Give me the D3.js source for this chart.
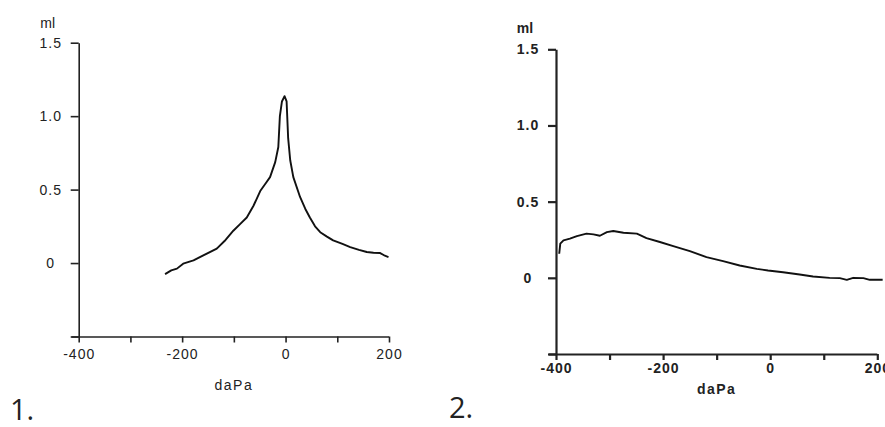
<!DOCTYPE html>
<html>
<head>
<meta charset="utf-8">
<script src="https://cdn.jsdelivr.net/npm/d3@7"></script>
<style>
  html, body { margin: 0; padding: 0; background: #fff; }
  svg { display: block; }
  .tick text { font-family: "Liberation Sans", Arial, sans-serif; font-size: 14px; fill: #222; letter-spacing: 1px; }
  .lbl { font-family: "Liberation Sans", Arial, sans-serif; font-size: 14px; fill: #222; }
  .num { font-family: "Open Sans", "Noto Sans", sans-serif; font-size: 29px; fill: #222; }
</style>
</head>
<body>
<div id="root"></div>
<script>
// chart 1 : pic autour de 0 daPa
const leftX = [-233, -221, -210, -198, -178, -160, -133, -118, -101, -88, -75, -62, -49, -38, -30, -20, -14, -11, -7, -2, 2, 5, 9, 15, 28, 38, 47, 57, 67, 80, 92, 110, 125, 142, 157, 170, 183, 192, 199];
const leftY = [-0.075, -0.05, -0.038, -0.004, 0.018, 0.05, 0.098, 0.15, 0.22, 0.265, 0.31, 0.39, 0.49, 0.545, 0.585, 0.687, 0.79, 1.0, 1.1, 1.136, 1.1, 0.85, 0.7, 0.585, 0.45, 0.37, 0.31, 0.25, 0.21, 0.18, 0.154, 0.13, 0.109, 0.09, 0.075, 0.07, 0.068, 0.05, 0.041];

// chart 2 : courbe plate
const rightX = [-394, -392, -386, -374, -361, -343, -330, -318, -305, -293, -274, -249, -231, -206, -181, -150, -119, -88, -57, -25, -4, 24, 55, 80, 111, 130, 143, 155, 174, 186, 210];
const rightY = [0.158, 0.224, 0.246, 0.257, 0.274, 0.29, 0.285, 0.276, 0.30, 0.307, 0.296, 0.29, 0.261, 0.235, 0.208, 0.175, 0.136, 0.11, 0.081, 0.059, 0.048, 0.037, 0.022, 0.009, 0.0, -0.002, -0.013, 0.0, -0.002, -0.013, -0.013];

const xTicks = [-400, -300, -200, -100, 0, 100, 200];
const xLabels = [-400, -200, 0, 200];
const yTicks = [-0.5, 0, 0.5, 1.0, 1.5];
const yLabels = ['0', '0.5', '1.0', '1.5'];

const W = 885, H = 427;

const svg = d3.select('#root').append('svg')
  .attr('width', W)
  .attr('height', H);

const PANELS = [
  { xs: leftX, ys: leftY, x0: 78.7, x1: 389, y0: 336.5, y1: 42.7, axisW: 1.6, mlY: 28, xLblY: 13, titleY: 390, num: '1.', numX: 10, numY: 420, bold: false },
  { xs: rightX, ys: rightY, x0: 556, x1: 877.3, y0: 354, y1: 49.3, axisW: 2.2, mlY: 33, xLblY: 9, titleY: 394, num: '2.', numX: 449, numY: 418, bold: true }
];

for (const p of PANELS) {
  const x = d3.scaleLinear().domain([-400, 200]).range([p.x0, p.x1]);
  const y = d3.scaleLinear().domain([-0.5, 1.5]).range([p.y0, p.y1]);

  svg.append('g')
    .attr('transform', `translate(0,${p.y0})`)
    .call(d3.axisBottom(x).tickValues(xTicks).tickSize(6).tickSizeOuter(0)
      .tickFormat((d) => xLabels.includes(d) ? String(d) : ''))
    .call((ax) => ax.select('.domain').attr('stroke', '#222').attr('stroke-width', p.axisW)
      .attr('d', `M${p.x0 - 7},0.5H${p.x1}`))
    .call((ax) => ax.selectAll('line').attr('stroke', '#222').attr('stroke-width', p.axisW))
    .call((ax) => ax.selectAll('text').attr('y', p.xLblY).attr('dy', '0.71em')
      .style('font-weight', p.bold ? 'bold' : 'normal'));

  svg.append('g')
    .attr('transform', `translate(${p.x0},0)`)
    .call(d3.axisLeft(y).tickValues(yTicks).tickSize(8).tickSizeOuter(0)
      .tickFormat((d) => d < 0 ? '' : yLabels[yTicks.indexOf(d) - 1]))
    .call((ax) => ax.select('.domain').attr('stroke', '#222').attr('stroke-width', p.axisW))
    .call((ax) => ax.selectAll('line').attr('stroke', '#222').attr('stroke-width', p.axisW))
    .call((ax) => ax.selectAll('text').attr('x', -28).attr('text-anchor', 'middle')
      .style('font-weight', p.bold ? 'bold' : 'normal'));

  svg.append('path')
    .datum(p.xs.map((v, i) => [v, p.ys[i]]))
    .attr('d', d3.line().x((d) => x(d[0])).y((d) => y(d[1])))
    .attr('fill', 'none')
    .attr('stroke', '#111')
    .attr('stroke-width', 1.9)
    .attr('stroke-linejoin', 'round');

  svg.append('text')
    .attr('class', 'lbl')
    .attr('x', p.x0 - 31)
    .attr('y', p.mlY)
    .attr('text-anchor', 'middle')
    .style('font-weight', p.bold ? 'bold' : 'normal')
    .text('ml');

  svg.append('text')
    .attr('class', 'lbl')
    .attr('x', (p.x0 + p.x1) / 2)
    .attr('y', p.titleY)
    .attr('text-anchor', 'middle')
    .style('letter-spacing', '1.5px')
    .style('font-weight', p.bold ? 'bold' : 'normal')
    .text('daPa');

  svg.append('text')
    .attr('class', 'num')
    .attr('x', p.numX)
    .attr('y', p.numY)
    .text(p.num);
}
</script>
</body>
</html>
